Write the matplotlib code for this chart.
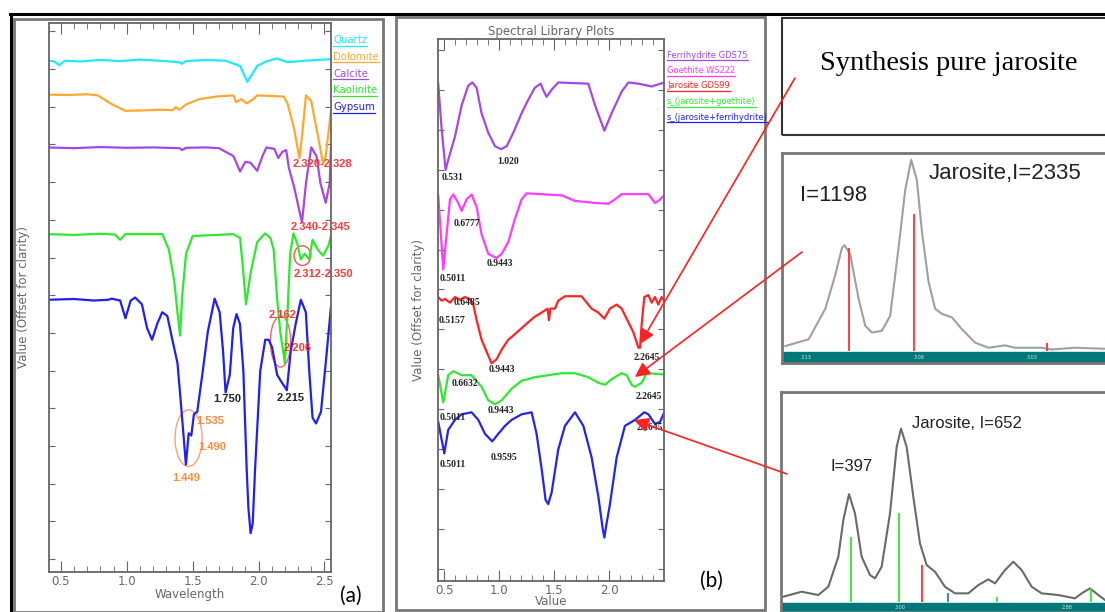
import numpy as np
import matplotlib
matplotlib.use("Agg")
import matplotlib.pyplot as plt
from matplotlib.patches import Ellipse, Rectangle, FancyArrowPatch
from matplotlib.lines import Line2D
from matplotlib.ticker import MultipleLocator, NullFormatter

# ---------------- panel (a) : reflectance spectra, offset for clarity
quartz_wl = [0.40, 0.45, 0.49, 0.53, 0.65, 0.80, 0.95, 1.10, 1.25, 1.40, 1.42, 1.45, 1.60, 1.75,
             1.86, 1.89, 1.915, 1.94, 1.99, 2.06, 2.14, 2.22, 2.35, 2.55]
quartz_v = [13.23, 13.20, 13.10, 13.22, 13.20, 13.24, 13.21, 13.25, 13.22, 13.18, 13.14, 13.21, 13.24, 13.22,
            13.08, 12.85, 12.66, 12.80, 13.08, 13.20, 13.28, 13.18, 13.22, 13.26]

dolomite_wl = [0.40, 0.55, 0.70, 0.78, 0.88, 0.99, 1.10, 1.25, 1.35, 1.37, 1.40, 1.45, 1.55, 1.68, 1.81,
               1.83, 1.87, 1.91, 1.96, 1.99, 2.19, 2.22, 2.27, 2.31, 2.33, 2.36, 2.40, 2.44, 2.49, 2.51, 2.55]
dolomite_v = [12.32, 12.31, 12.33, 12.30, 12.08, 11.89, 11.90, 11.92, 11.91, 11.99, 11.92, 12.06, 12.20, 12.27, 12.30,
              12.12, 12.20, 12.09, 12.20, 12.30, 12.27, 12.09, 11.42, 10.64, 11.21, 12.30, 12.15, 11.42, 10.49, 10.69, 11.89]

calcite_wl = [0.40, 0.60, 0.80, 1.00, 1.20, 1.40, 1.42, 1.45, 1.60, 1.70, 1.81, 1.86, 1.90, 1.94, 1.99, 2.03,
              2.06, 2.12, 2.15, 2.18, 2.21, 2.23, 2.27, 2.31, 2.33, 2.36, 2.40, 2.44, 2.47, 2.51, 2.54, 2.55]
calcite_v = [10.92, 10.90, 10.93, 10.91, 10.92, 10.90, 10.85, 10.91, 10.92, 10.90, 10.69, 10.28, 10.54, 10.51, 10.30, 10.69,
             10.92, 10.88, 10.64, 10.80, 10.85, 10.38, 9.87, 9.24, 8.93, 9.97, 10.92, 10.69, 9.97, 9.45, 9.97, 10.92]

kaolinite_wl = [0.40, 0.60, 0.80, 0.91, 0.95, 0.99, 1.27, 1.32, 1.36, 1.385, 1.405, 1.42, 1.45, 1.50, 1.81, 1.86,
                1.885, 1.905, 1.94, 1.99, 2.05, 2.09, 2.115, 2.14, 2.165, 2.20, 2.22, 2.24, 2.265, 2.295, 2.32,
                2.35, 2.385, 2.41, 2.45, 2.49, 2.53, 2.55]
kaolinite_v = [8.62, 8.60, 8.63, 8.61, 8.47, 8.62, 8.62, 8.21, 7.38, 6.55, 5.93, 6.96, 8.10, 8.57, 8.62, 8.52,
               7.59, 6.76, 7.59, 8.41, 8.64, 8.52, 8.21, 6.96, 6.03, 5.20, 6.55, 8.10, 8.64, 8.36, 7.95,
               8.10, 7.95, 8.47, 8.21, 8.05, 8.31, 8.57]

gypsum_wl = [0.40, 0.60, 0.75, 0.86, 0.885, 0.95, 0.99, 1.03, 1.064, 1.115, 1.154, 1.192, 1.231, 1.269, 1.308,
             1.346, 1.385, 1.41, 1.449, 1.47, 1.49, 1.51, 1.535, 1.577, 1.615, 1.667, 1.705, 1.731, 1.75, 1.782,
             1.808, 1.833, 1.859, 1.885, 1.91, 1.923, 1.94, 1.956, 1.974, 2.013, 2.051, 2.077, 2.103, 2.141,
             2.167, 2.215, 2.244, 2.282, 2.321, 2.359, 2.385, 2.41, 2.436, 2.474, 2.513, 2.55]
gypsum_v = [6.88, 6.90, 6.86, 6.88, 6.91, 6.86, 6.39, 6.86, 6.94, 6.76, 6.13, 5.82, 6.24, 6.55, 6.45,
            5.82, 5.20, 4.17, 2.51, 3.34, 3.28, 3.85, 3.91, 4.99, 6.03, 6.91, 6.55, 5.51, 4.42, 4.89,
            6.13, 6.50, 6.24, 4.99, 2.40, 1.37, 0.69, 0.95, 2.40, 4.99, 5.82, 5.82, 5.62, 4.89,
            4.74, 4.48, 5.51, 6.24, 6.88, 6.55, 4.99, 3.75, 3.60, 3.91, 5.31, 6.70]

names_a = ["Quartz", "Dolomite", "Calcite", "Kaolinite", "Gypsum"]
colors_a = ["#20e8ff", "#ffa830", "#a448e8", "#30e830", "#2020f0"]

# ---------------- panel (b) : spectral library plots
ferri_wl = [0.445, 0.476, 0.512, 0.536, 0.597, 0.658, 0.718, 0.755, 0.794, 0.839, 0.900, 0.961, 1.015, 1.067,
            1.127, 1.203, 1.264, 1.324, 1.376, 1.406, 1.430, 1.476, 1.536, 1.809, 1.870, 1.955, 2.021, 2.112,
            2.173, 2.264, 2.385, 2.50]
ferri_v = [12.16, 11.03, 10.00, 10.25, 10.83, 11.62, 12.11, 12.19, 12.06, 11.42, 10.93, 10.59, 10.52, 10.59,
           10.93, 11.42, 11.76, 12.06, 12.16, 11.96, 11.83, 12.01, 12.19, 12.16, 11.62, 10.98, 11.42, 11.96,
           12.19, 12.16, 12.09, 12.19]

goethite_wl = [0.445, 0.491, 0.521, 0.552, 0.582, 0.627, 0.658, 0.703, 0.748, 0.794, 0.839, 0.900, 0.976, 1.021,
               1.082, 1.142, 1.203, 1.248, 1.567, 1.688, 1.870, 1.991, 2.052, 2.112, 2.355, 2.415, 2.445, 2.50]
goethite_v = [9.36, 7.50, 8.38, 9.26, 9.38, 9.17, 8.97, 9.26, 9.38, 9.07, 8.38, 7.89, 7.79, 7.89,
              8.19, 8.77, 9.26, 9.41, 9.36, 9.22, 9.17, 9.15, 9.26, 9.39, 9.39, 9.17, 9.22, 9.36]

jarosite_wl = [0.445, 0.476, 0.506, 0.552, 0.597, 0.642, 0.688, 0.733, 0.764, 0.794, 0.839, 0.900, 0.930, 0.976,
               1.021, 1.082, 1.142, 1.203, 1.264, 1.324, 1.385, 1.439, 1.452, 1.464, 1.506, 1.536, 1.597, 1.748,
               1.839, 1.900, 1.955, 2.006, 2.067, 2.112, 2.173, 2.218, 2.2645, 2.279, 2.294, 2.318, 2.355, 2.385,
               2.415, 2.445, 2.476, 2.50]
jarosite_v = [6.81, 6.72, 6.76, 6.67, 6.81, 6.74, 6.81, 6.76, 6.62, 6.23, 5.74, 5.34, 5.15, 5.25,
              5.49, 5.74, 5.88, 6.03, 6.18, 6.32, 6.42, 6.52, 6.23, 6.52, 6.52, 6.72, 6.83, 6.83,
              6.52, 6.42, 6.27, 6.52, 6.62, 6.52, 6.18, 5.93, 5.54, 5.54, 6.13, 6.81, 6.86, 6.67,
              6.81, 6.62, 6.81, 6.72]

mix_goe_wl = [0.445, 0.491, 0.536, 0.582, 0.658, 0.748, 0.839, 0.900, 0.961, 1.021, 1.112, 1.203, 1.324, 1.445,
              1.567, 1.688, 1.809, 1.900, 1.961, 2.021, 2.112, 2.158, 2.203, 2.233, 2.294, 2.339, 2.50]
mix_goe_v = [4.85, 4.17, 4.85, 4.95, 4.85, 4.85, 4.56, 4.22, 4.12, 4.22, 4.51, 4.71, 4.80, 4.85,
             4.90, 4.90, 4.80, 4.66, 4.61, 4.75, 4.90, 4.85, 4.61, 4.56, 4.66, 4.90, 4.87]

mix_fer_wl = [0.445, 0.500, 0.536, 0.597, 0.658, 0.748, 0.809, 0.870, 0.936, 0.991, 1.052, 1.112, 1.203, 1.294,
              1.339, 1.385, 1.421, 1.445, 1.476, 1.536, 1.597, 1.688, 1.764, 1.839, 1.900, 1.940, 1.955, 1.970,
              2.006, 2.067, 2.142, 2.233, 2.318, 2.355, 2.415, 2.461, 2.50]
mix_fer_v = [3.68, 2.89, 3.48, 3.73, 3.87, 3.92, 3.73, 3.38, 3.19, 3.38, 3.58, 3.73, 3.87, 3.92,
             3.38, 2.50, 1.72, 1.62, 1.91, 2.99, 3.58, 3.92, 3.58, 2.79, 1.81, 1.00, 0.78, 1.05,
             1.62, 2.79, 3.58, 3.73, 3.92, 3.87, 3.63, 3.68, 3.92]

names_b = ["Ferrihydrite GDS75", "Goethite WS222", "Jarosite GDS99",
           "s_(jarosite+goethite)", "s_(jarosite+ferrihydrite)"]
colors_b = ["#a448e8", "#ff3cff", "#ff2424", "#30e830", "#2424f0"]

# band positions written on the spectra of panel (b): (label, x, y)
labels_b = [("0.531", 0.476, 9.80), ("1.020", 0.985, 10.20), ("0.6777", 0.588, 8.66),
            ("0.5011", 0.461, 7.27), ("0.9443", 0.885, 7.64), ("0.6485", 0.582, 6.67),
            ("0.5157", 0.452, 6.21), ("0.9443", 0.900, 4.99), ("2.2645", 2.218, 5.29),
            ("0.6632", 0.567, 4.64), ("2.2645", 2.239, 4.31), ("0.5011", 0.461, 3.80),
            ("0.9443", 0.894, 3.97), ("2.2645", 2.248, 3.55), ("0.5011", 0.455, 2.60),
            ("0.9595", 0.924, 2.79)]

# ---------------- XRD insets (arbitrary position scale, intensity in counts-like units)
xrd1_pos = [30, 100, 150, 180, 200, 208, 225, 250, 270, 290, 320, 345, 370, 390, 408, 425, 440, 460,
            480, 500, 530, 560, 600, 640, 690, 720, 800, 830, 900, 990]
xrd1_int = [15, 35, 125, 225, 305, 313, 285, 155, 75, 55, 60, 105, 305, 475, 565, 505, 355, 205,
            125, 110, 100, 65, 25, 10, 17, 10, 10, 5, 10, 7]
xrd1_red_pos = [222, 415, 815]
xrd1_red_h = [305, 405, 25]

xrd2_pos = [25, 80, 130, 160, 190, 205, 222, 240, 260, 285, 300, 320, 345, 365, 378, 395, 415, 435, 455,
            480, 510, 540, 580, 610, 640, 660, 690, 715, 740, 770, 800, 850, 900, 920, 945, 970, 990]
xrd2_int = [15, 30, 20, 45, 135, 245, 323, 265, 135, 80, 70, 105, 265, 465, 520, 465, 315, 175, 110,
            90, 45, 25, 25, 50, 67, 55, 95, 120, 95, 45, 25, 20, 10, 25, 40, 20, 5]
xrd2_green_pos = [228, 372, 665, 948]
xrd2_green_h = [195, 265, 15, 40]
xrd2_red_pos = [440]
xrd2_red_h = [110]
xrd2_teal_pos = [520]
xrd2_teal_h = [25]

W, H = 1105, 612


def box(x0, y0, x1, y1):
    return [x0 / W, 1 - y1 / H, (x1 - x0) / W, (y1 - y0) / H]


def fp(x, y):
    return (x / W, 1 - y / H)


def idl_axes(ax):
    for s in ax.spines.values():
        s.set_color("#666666")
        s.set_linewidth(1.3)
    ax.tick_params(which="both", direction="in", top=True, right=True,
                   color="#666666", labelcolor="#666666", labelsize=8.5, pad=2)
    ax.tick_params(axis="x", which="major", length=8)
    ax.tick_params(axis="x", which="minor", length=4)
    ax.tick_params(axis="y", which="major", length=4)
    ax.xaxis.set_major_locator(MultipleLocator(0.5))
    ax.xaxis.set_minor_locator(MultipleLocator(0.1))
    ax.yaxis.set_major_locator(MultipleLocator(1))
    ax.yaxis.set_major_formatter(NullFormatter())


fig = plt.figure(figsize=(11.05, 6.12), dpi=100)

# page frames
fig.add_artist(Line2D([10 / W, 1], [1 - 14 / H] * 2, color="black", lw=2.2, transform=fig.transFigure))
fig.add_artist(Line2D([11 / W] * 2, [1 - 14 / H, 0], color="black", lw=2.2, transform=fig.transFigure))
fig.add_artist(Rectangle((14 / W, 0), (383 - 14) / W, (612 - 19) / H, fill=False, ec="#777777",
                         lw=2, transform=fig.transFigure))
fig.add_artist(Rectangle((396 / W, 1 - 610 / H), (765 - 396) / W, (610 - 17) / H, fill=False,
                         ec="#777777", lw=2, transform=fig.transFigure))
fig.add_artist(Rectangle((782 / W, 1 - 135 / H), (1110 - 782) / W, (135 - 18) / H, fill=False,
                         ec="#333333", lw=1.5, transform=fig.transFigure))

# ---- panel (a)
ax_a = fig.add_axes(box(49, 23, 331, 572))
series_a = [(quartz_wl, quartz_v), (dolomite_wl, dolomite_v), (calcite_wl, calcite_v),
            (kaolinite_wl, kaolinite_v), (gypsum_wl, gypsum_v)]
for (wl, v), c in zip(series_a, colors_a):
    ax_a.plot(wl, v, color=c, lw=1.6, solid_joinstyle="round")
ax_a.set_xlim(0.41, 2.55)
ax_a.set_ylim(-0.34, 14.22)
idl_axes(ax_a)
ax_a.set_xlabel("Wavelength", color="#666666", fontsize=8.5, labelpad=0)
ax_a.set_ylabel("Value (Offset for clarity)", color="#666666", fontsize=8.5)
ax_a.yaxis.set_label_coords(-0.066, 0.5)

red = "#ff3838"
orange = "#ff8c3c"
for txt, x, y, c in [("2.320-2.328", 2.256, 10.49, red), ("2.340-2.345", 2.244, 8.80, red),
                     ("2.312-2.350", 2.269, 7.55, red), ("2.162", 2.077, 6.47, red),
                     ("2.206", 2.187, 5.59, red), ("1.750", 1.654, 4.25, "#222222"),
                     ("2.215", 2.136, 4.27, "#222222"), ("1.535", 1.531, 3.67, orange),
                     ("1.490", 1.546, 2.97, orange), ("1.449", 1.346, 2.15, orange)]:
    ax_a.text(x, y, txt, color=c, fontsize=8, fontweight="bold", family="Liberation Sans",
              ha="left", va="center")
ax_a.add_patch(Ellipse((2.333, 8.05), 0.128, 0.52, fill=False, ec="#ff5050", lw=1))
ax_a.add_patch(Ellipse((2.167, 5.77), 0.154, 1.35, fill=False, ec="#ff6060", lw=1))
ax_a.add_patch(Ellipse((1.469, 3.21), 0.205, 1.50, fill=False, ec="#ffa070", lw=1))

leg_texts = []
for i, (n, c) in enumerate(zip(names_a, colors_a)):
    leg_texts.append(fig.text(*fp(333, 40 + i * 16.8), n, color=c, fontsize=7.3, ha="left", va="center"))

fig.text(*fp(340, 596), "(a)", fontsize=15, family="Lato", ha="left", va="center")

# ---- panel (b)
ax_b = fig.add_axes(box(438, 39, 664, 581))
series_b = [(ferri_wl, ferri_v), (goethite_wl, goethite_v), (jarosite_wl, jarosite_v),
            (mix_goe_wl, mix_goe_v), (mix_fer_wl, mix_fer_v)]
for (wl, v), c in zip(series_b, colors_b):
    ax_b.plot(wl, v, color=c, lw=1.6, solid_joinstyle="round")
ax_b.set_xlim(0.443, 2.497)
ax_b.set_ylim(-0.31, 13.28)
idl_axes(ax_b)
ax_b.set_xlabel("Value", color="#666666", fontsize=8.5, labelpad=-1)
ax_b.set_ylabel("Value (Offset for clarity)", color="#666666", fontsize=8.5)
ax_b.yaxis.set_label_coords(-0.056, 0.5)
ax_b.set_title("Spectral Library Plots", color="#666666", fontsize=8.5, pad=3)
for txt, x, y in labels_b:
    ax_b.text(x, y, txt, color="#222222", fontsize=7, fontweight="bold", family="Liberation Serif",
              ha="left", va="center", clip_on=True)

for i, (n, c) in enumerate(zip(names_b, colors_b)):
    leg_texts.append(fig.text(*fp(667, 55 + i * 15.5), n, color=c, fontsize=6, ha="left", va="center"))

fig.text(*fp(700, 581), "(b)", fontsize=15, family="Lato", ha="left", va="center")

# ---- right column
fig.text(*fp(949, 63), "Synthesis pure jarosite", fontsize=20.5, family="Liberation Serif",
         ha="center", va="center")

teal = "#00787a"
ax_x1 = fig.add_axes(box(782, 153, 1110, 363))
ax_x1.plot(xrd1_pos, xrd1_int, color="#a0a0a0", lw=1.5, solid_joinstyle="round")
ax_x1.vlines(xrd1_red_pos, 0, xrd1_red_h, color="#ff3030", lw=1.3)
ax_x1.axhspan(-35, -3, color=teal)
ax_x1.set_xlim(20, 1005)
ax_x1.set_ylim(-35, 585)
ax_x1.text(75, 460, "I=1198", fontsize=16, family="Liberation Sans", color="#222222", va="center")
ax_x1.text(460, 525, "Jarosite,I=2335", fontsize=16, family="Liberation Sans", color="#222222", va="center")
for t, x in [("3.13", 75), ("3.08", 415), ("3.03", 755)]:
    ax_x1.text(x, -19, t, fontsize=3.5, color="#cfe8e8", va="center")

ax_x2 = fig.add_axes(box(781, 392, 1110, 612))
ax_x2.plot(xrd2_pos, xrd2_int, color="#6a6a6a", lw=1.5, solid_joinstyle="round")
ax_x2.vlines(xrd2_green_pos, 0, xrd2_green_h, color="#30e830", lw=1.3)
ax_x2.vlines(xrd2_red_pos, 0, xrd2_red_h, color="#ff3030", lw=1.3)
ax_x2.vlines(xrd2_teal_pos, 0, xrd2_teal_h, color="#2a8a8a", lw=1.3)
ax_x2.axhspan(-31, -3, color=teal)
ax_x2.set_xlim(18, 1005)
ax_x2.set_ylim(-31, 630)
ax_x2.text(165, 405, "I=397", fontsize=12, family="Liberation Sans", color="#222222", va="center")
ax_x2.text(412, 535, "Jarosite, I=652", fontsize=12, family="Liberation Sans", color="#222222", va="center")
for t, x in [("3.00", 360), ("2.88", 860)]:
    ax_x2.text(x, -17, t, fontsize=3.5, color="#cfe8e8", va="center")

for ax in (ax_x1, ax_x2):
    ax.set_xticks([])
    ax.set_yticks([])
    for s in ax.spines.values():
        s.set_color("#777777")
        s.set_linewidth(2)

# red arrows from the XRD boxes to the spectra
for p0, p1 in [((795, 78), (640, 344)), ((802, 252), (635, 377)), ((787, 474), (634, 420))]:
    fig.add_artist(FancyArrowPatch(fp(*p0), fp(*p1), transform=fig.transFigure, arrowstyle="-|>",
                                   mutation_scale=22, color="#ff2020", lw=1.2, zorder=20,
                                   shrinkA=0, shrinkB=0))

# underline the legend entries
fig.canvas.draw()
renderer = fig.canvas.get_renderer()
for t in leg_texts:
    bb = t.get_window_extent(renderer)
    fig.add_artist(Line2D([bb.x0 / W, bb.x1 / W], [(bb.y0 - 0.5) / H] * 2, color=t.get_color(),
                          lw=0.9, transform=fig.transFigure))

fig.savefig("out.png", dpi=100)
